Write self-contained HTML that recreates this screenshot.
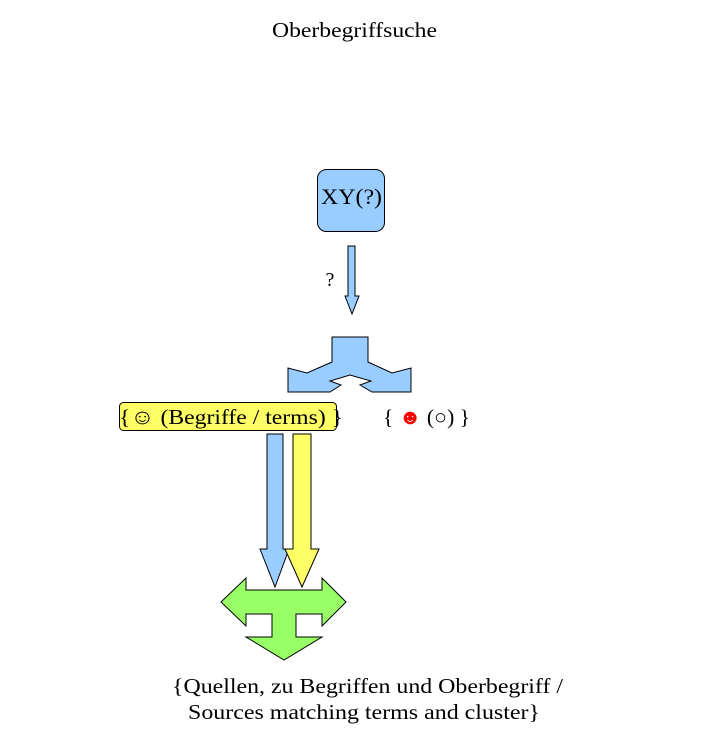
<!DOCTYPE html>
<html><head><meta charset="utf-8"><style>html,body{margin:0;padding:0;background:#fff}svg{display:block}</style></head>
<body>
<svg width="704" height="734" viewBox="0 0 704 734" xmlns="http://www.w3.org/2000/svg" font-family="Liberation Serif, DejaVu Serif, serif">
<text x="354.5" y="37" font-size="21" text-anchor="middle" textLength="165" lengthAdjust="spacingAndGlyphs">Oberbegriffsuche</text>
<rect x="317.5" y="169.5" width="67" height="62" rx="9" fill="#99ccff" stroke="#000"/>
<text x="321" y="204" font-size="22" textLength="61" lengthAdjust="spacingAndGlyphs">XY(?)</text>
<polygon points="348,246 355,246 355,296 359,296 352,314 345,296 348,296" fill="#99ccff" stroke="#000" stroke-width="1"/>
<text x="330" y="286" font-size="20" text-anchor="middle">?</text>
<polygon points="332,337 368,337 368,362 392,373 411,368 411,392 372,392 360,385 371,381 350,375 330,381 341,385 330,392 288,392 288,368 307,373 332,362" fill="#99ccff" stroke="#000" stroke-width="1"/>
<rect x="119.5" y="402.5" width="217" height="28" rx="4" fill="#ffff66" stroke="#000"/>
<text x="119" y="424" font-size="21" textLength="224" lengthAdjust="spacingAndGlyphs">{☺ (Begriffe / terms) }</text>
<text x="383" y="424" font-size="21" textLength="87" lengthAdjust="spacingAndGlyphs">{ <tspan fill="#ff0000">☻</tspan> (○) }</text>
<polygon points="267,434 283,434 283,549 289,549 275,587 260,549 267,549" fill="#99ccff" stroke="#000"/>
<polygon points="293,434 311,434 311,549 319,549 302,587 285,549 293,549" fill="#ffff66" stroke="#000"/>
<polygon points="221,602 246,578 246,590 322,590 322,578 346,602 322,626 322,614 296,614 296,637 322,637 284,660 246,637 272,637 272,614 246,614 246,626" fill="#99ff66" stroke="#000"/>
<text x="172" y="693" font-size="21" textLength="391" lengthAdjust="spacingAndGlyphs">{Quellen, zu Begriffen und Oberbegriff /</text>
<text x="188" y="719" font-size="21" textLength="352" lengthAdjust="spacingAndGlyphs">Sources matching terms and cluster}</text>
</svg>
</body></html>
